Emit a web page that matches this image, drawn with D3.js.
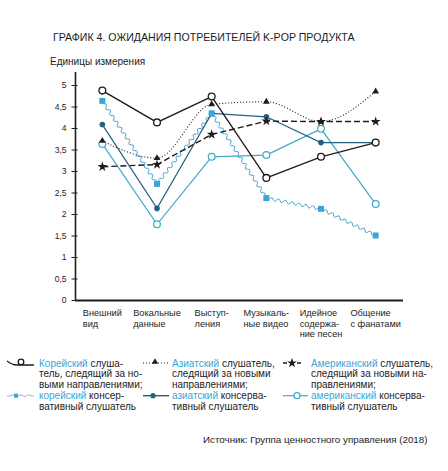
<!DOCTYPE html>
<html><head><meta charset="utf-8">
<script src="https://cdn.jsdelivr.net/npm/d3@7"></script>
<style>
html,body{margin:0;padding:0;background:#fff;}
svg{display:block;font-family:"Liberation Sans",Arial,sans-serif;}
</style></head>
<body>
<svg id="c" width="448" height="471"></svg>
<script>
const title = "ГРАФИК 4. ОЖИДАНИЯ ПОТРЕБИТЕЛЕЙ K-POP ПРОДУКТА";
const unitLabel = "Единицы измерения";
const source = "Источник: Группа ценностного управления (2018)";
const categories = ["Внешний вид","Вокальные данные","Выступления","Музыкальные видео","Идейное содержание песен","Общение с фанатами"];
const categoryLines = [["Внешний","вид"],["Вокальные","данные"],["Выступ-","ления"],["Музыкаль-","ные видео"],["Идейное","содержа-","ние песен"],["Общение","с фанатами"]];
const yTicks = [0,0.5,1,1.5,2,2.5,3,3.5,4,4.5,5];

const koreanTrend = [4.87, 4.13, 4.73, 2.84, 3.33, 3.66];
const koreanConservative = [4.63, 2.70, 4.34, 2.37, 2.12, 1.50];
const asianTrend = [3.70, 3.30, 4.55, 4.61, 4.15, 4.85];
const asianConservative = [4.08, 2.13, 4.34, 4.26, 3.66, 3.66];
const americanTrend = [3.10, 3.15, 3.85, 4.16, 4.15, 4.15];
const americanConservative = [3.63, 1.76, 3.33, 3.37, 3.98, 2.23];

const legendCol1 = [["Корейский"," слуша-"],["","тель, следящий за но-"],["","выми направлениями;"],["корейский"," консер-"],["","вативный слушатель"]];
const legendCol2 = [["Азиатский"," слушатель,"],["","следящий за новыми"],["","направлениями;"],["азиатский"," консерва-"],["","тивный слушатель"]];
const legendCol3 = [["Американский"," слушатель,"],["","следящий за новыми на-"],["","правлениями;"],["американский"," консерва-"],["","тивный слушатель"]];

const ink = "#1d1d1d", blue = "#3aa6d6", teal = "#27607f", lblue = "#3eaac9";
const svg = d3.select("#c");

const x = d3.scaleBand().domain(categories).range([75, 403]);
const cx = d => x(d) + x.bandwidth()/2;
const y = d3.scaleLinear().domain([0,5]).range([300, 85]);

// title
svg.append("text").attr("x",53).attr("y",41).attr("font-size",10.6).attr("fill",ink).text(title);
svg.append("text").attr("x",50).attr("y",65).attr("font-size",10).attr("fill",ink).text(unitLabel);

// y axis
const yAxis = d3.axisLeft(y).tickValues(yTicks).tickSize(0).tickPadding(9)
  .tickFormat(d => String(d).replace(".", ","));
const gy = svg.append("g").attr("transform","translate(75.5,0)").call(yAxis);
gy.select(".domain").remove();
gy.selectAll("text").attr("font-size",8.5).attr("fill",ink).attr("font-family","Liberation Sans, Arial, sans-serif");
gy.selectAll(".tick").append("line").attr("x1",-4).attr("x2",2).attr("stroke",ink).attr("stroke-width",1);
svg.append("line").attr("x1",75.5).attr("x2",75.5).attr("y1",72).attr("y2",y(0)).attr("stroke",ink).attr("stroke-width",1.6);
// x axis
svg.append("line").attr("x1",75).attr("x2",403).attr("y1",y(0)+0.5).attr("y2",y(0)+0.5).attr("stroke",ink).attr("stroke-width",1.8);

// category labels
categories.forEach((c,i) => {
  const g = svg.append("g");
  const lines = categoryLines[i];
  const ts = lines.map((l,j) => g.append("text").attr("y",316 + j*10.6).attr("font-size",9.2).attr("fill",ink).text(l));
  const w = d3.max(ts, t => t.node().getComputedTextLength());
  ts.forEach(t => t.attr("x", cx(c) - w/2));
});

// wavy path generator
function wavy(pts, amp, wl){
  let d = "";
  for(let i=0;i<pts.length-1;i++){
    const [x0,y0]=pts[i],[x1,y1]=pts[i+1];
    const L=Math.hypot(x1-x0,y1-y0), n=Math.max(2,Math.round(L/1.5));
    const ux=(x1-x0)/L, uy=(y1-y0)/L, px=-uy, py=ux;
    for(let k=0;k<=n;k++){
      const t=k/n, s=t*L;
      const off=amp*Math.sin(2*Math.PI*s/wl)*Math.min(1,s/4,(L-s)/4);
      const xx=x0+ux*s+px*off, yy=y0+uy*s+py*off;
      d += (d===""?"M":"L")+xx.toFixed(2)+","+yy.toFixed(2);
    }
  }
  return d;
}
const pts = vals => vals.map((v,i)=>[cx(categories[i]), y(v)]);
const lineGen = d3.line();

// American conservative line
svg.append("path").attr("d",lineGen(pts(americanConservative))).attr("fill","none").attr("stroke",lblue).attr("stroke-width",1.2);
// Korean conservative wavy line
svg.append("path").attr("d",wavy(pts(koreanConservative),1.7,7)).attr("fill","none").attr("stroke","#4fa4d0").attr("stroke-width",1);
// Asian conservative
svg.append("path").attr("d",lineGen(pts(asianConservative))).attr("fill","none").attr("stroke",teal).attr("stroke-width",1.2);
// Asian trend dotted
svg.append("path").attr("d",d3.line().curve(d3.curveMonotoneX)(pts(asianTrend))).attr("fill","none").attr("stroke",ink).attr("stroke-width",1.1).attr("stroke-dasharray","1,2");
// American trend dashed
svg.append("path").attr("d",lineGen(pts(americanTrend))).attr("fill","none").attr("stroke",ink).attr("stroke-width",1.4).attr("stroke-dasharray","6,3");
// Korean trend
svg.append("path").attr("d",lineGen(pts(koreanTrend))).attr("fill","none").attr("stroke",ink).attr("stroke-width",1.3);

// markers
const sym = (type,size) => d3.symbol().type(type).size(size)();
svg.selectAll(".ac").data(americanConservative).join("circle").attr("cx",(d,i)=>cx(categories[i])).attr("cy",d=>y(d)).attr("r",3.4).attr("fill","#fff").attr("stroke",lblue).attr("stroke-width",1.2);
svg.selectAll(".ax").data(asianConservative).join("circle").attr("cx",(d,i)=>cx(categories[i])).attr("cy",d=>y(d)).attr("r",2.8).attr("fill",teal);
svg.selectAll(".kc").data(koreanConservative).join("rect").attr("x",(d,i)=>cx(categories[i])-3).attr("y",d=>y(d)-3).attr("width",6).attr("height",6).attr("fill",blue);
svg.selectAll(".at").data(asianTrend).join("path").attr("d",sym(d3.symbolTriangle,20)).attr("transform",(d,i)=>`translate(${cx(categories[i])},${y(d)})`).attr("fill",ink);
svg.selectAll(".am").data(americanTrend).join("path").attr("d",sym(d3.symbolStar,30)).attr("transform",(d,i)=>`translate(${cx(categories[i])},${y(d)})`).attr("fill",ink);
svg.selectAll(".kt").data(koreanTrend).join("circle").attr("cx",(d,i)=>cx(categories[i])).attr("cy",d=>y(d)).attr("r",3.4).attr("fill","#fff").attr("stroke",ink).attr("stroke-width",1.3);

// legend
const lBase = 366.5, lStep = 10.9;
function legendText(col, x0){
  col.forEach((ln,j)=>{
    const t = svg.append("text").attr("x",x0).attr("y",lBase + j*lStep).attr("font-size",10).attr("fill",ink);
    if(ln[0]) t.append("tspan").attr("fill",blue).text(ln[0]);
    t.append("tspan").text(ln[1]);
  });
}
legendText(legendCol1, 39);
legendText(legendCol2, 172);
legendText(legendCol3, 311);
const ly1 = lBase - 3.5, ly2 = lBase - 3.5 + 3*lStep;
// col1
svg.append("path").attr("d",`M7,${ly1-2} Q12,${ly1+2} 17,${ly1+2} L34,${ly1+2}`).attr("fill","none").attr("stroke",ink).attr("stroke-width",1.3);
svg.append("circle").attr("cx",21).attr("cy",ly1-1).attr("r",2.8).attr("fill","#fff").attr("stroke",ink).attr("stroke-width",1.3);
svg.append("path").attr("d",wavy([[7,ly2],[34,ly2]],0.8,8)).attr("fill","none").attr("stroke","#8fb4e0").attr("stroke-width",1);
svg.append("rect").attr("x",14).attr("y",ly2-2).attr("width",4).attr("height",4).attr("fill",blue);
// col2
svg.append("line").attr("x1",143).attr("x2",168).attr("y1",ly1).attr("y2",ly1).attr("stroke",ink).attr("stroke-width",1.1).attr("stroke-dasharray","1,2");
svg.append("path").attr("d",sym(d3.symbolTriangle,18)).attr("transform",`translate(155,${ly1-1})`).attr("fill",ink);
svg.append("line").attr("x1",143).attr("x2",169).attr("y1",ly2).attr("y2",ly2).attr("stroke",teal).attr("stroke-width",1.4);
svg.append("circle").attr("cx",153).attr("cy",ly2).attr("r",2.6).attr("fill",teal);
// col3
svg.append("line").attr("x1",283).attr("x2",304).attr("y1",ly1).attr("y2",ly1).attr("stroke",ink).attr("stroke-width",1.4).attr("stroke-dasharray","4,3");
svg.append("path").attr("d",sym(d3.symbolStar,30)).attr("transform",`translate(292,${ly1})`).attr("fill",ink);
svg.append("line").attr("x1",283).attr("x2",308).attr("y1",ly2).attr("y2",ly2).attr("stroke",lblue).attr("stroke-width",1.2);
svg.append("circle").attr("cx",297).attr("cy",ly2).attr("r",3).attr("fill","#fff").attr("stroke",lblue).attr("stroke-width",1.2);

// source
svg.append("text").attr("x",203).attr("y",443).attr("font-size",9.8).attr("fill",ink).text(source);
</script>
</body></html>
